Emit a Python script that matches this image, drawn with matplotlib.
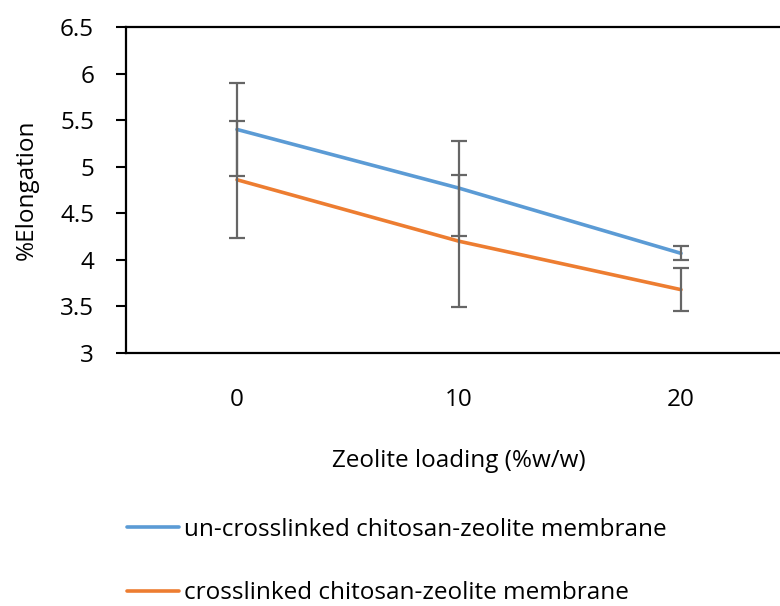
import matplotlib
matplotlib.use("Agg")
import matplotlib.pyplot as plt
import numpy as np

plt.rcParams['font.family'] = ['Open Sans', 'DejaVu Sans']

loading = ['0', '10', '20']
uncross = [5.40, 4.77, 4.07]
uncross_err = [0.50, 0.51, 0.075]
cross = [4.86, 4.20, 3.68]
cross_err = [0.63, 0.71, 0.23]

series_names = ['un-crosslinked chitosan-zeolite membrane',
                'crosslinked chitosan-zeolite membrane']
blue = '#5B9BD5'
orange = '#ED7D31'
err_color = '#666666'
fs = 17.5

fig = plt.figure(figsize=(7.8, 6.06), dpi=100)
ax = fig.add_axes([126 / 780, 1 - 353 / 606, 666 / 780, 326 / 606])

x = np.arange(len(loading))
l1, = ax.plot(x, uncross, color=blue, lw=2.6, solid_capstyle='round', zorder=3)
l2, = ax.plot(x, cross, color=orange, lw=2.6, solid_capstyle='round', zorder=3)
ax.errorbar(x, uncross, yerr=uncross_err, fmt='none', ecolor=err_color,
            elinewidth=1.6, capsize=6, capthick=1.6, zorder=4)
ax.errorbar(x, cross, yerr=cross_err, fmt='none', ecolor=err_color,
            elinewidth=1.6, capsize=6, capthick=1.6, zorder=4)

ax.set_xlim(-0.5, 2.5)
ax.set_ylim(3, 6.5)
ax.set_yticks(np.arange(3, 6.51, 0.5))
ax.set_yticklabels(['3', '3.5', '4', '4.5', '5', '5.5', '6', '6.5'])
ax.set_xticks(x)
ax.set_xticklabels(loading)

for side in ['top', 'left', 'bottom']:
    ax.spines[side].set_linewidth(1.6)
    ax.spines[side].set_color('black')
ax.spines['right'].set_visible(False)

ax.tick_params(axis='y', length=7, width=1.5, pad=16, labelsize=fs, direction='out')
ax.tick_params(axis='x', length=0, pad=25, labelsize=fs)

ax.set_xlabel('Zeolite loading (%w/w)', fontsize=fs, labelpad=27)
fig.text(27 / 780, 1 - 190 / 606, '%Elongation', rotation=90,
         ha='center', va='center', fontsize=fs)

fig.legend([l1, l2], series_names, loc='upper left',
           bbox_to_anchor=(127 / 780, 1 - 518 / 606), frameon=False,
           fontsize=fs, handlelength=2.15, handletextpad=0.2,
           labelspacing=1.62, borderpad=0, borderaxespad=0)

fig.savefig('out.png', dpi=100)
